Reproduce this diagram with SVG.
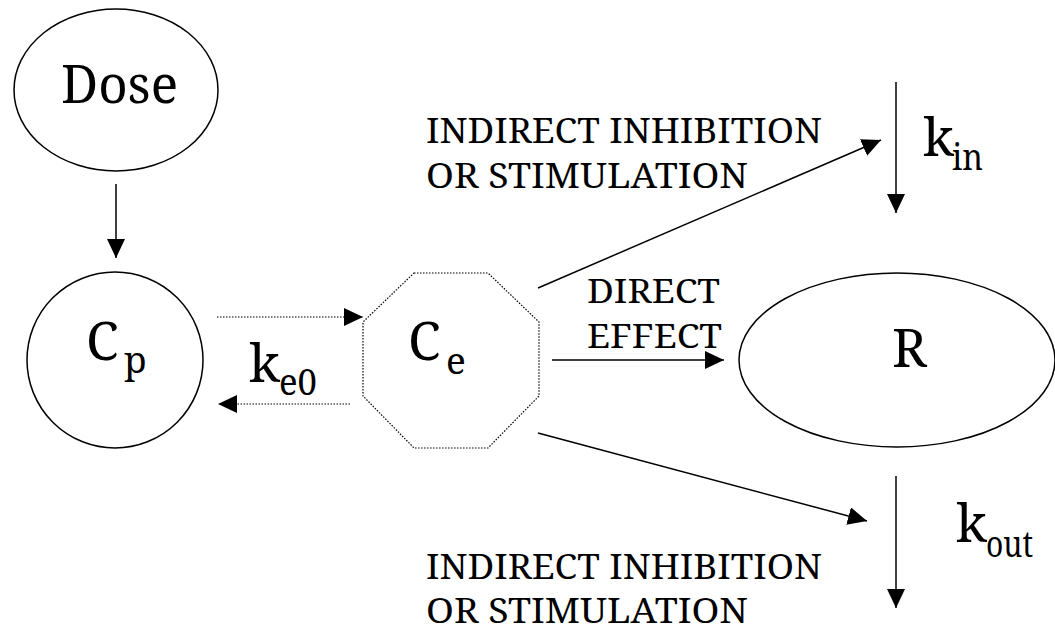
<svg xmlns="http://www.w3.org/2000/svg" width="1055" height="633" viewBox="0 0 1055 633">
<defs>
<marker id="ah" markerUnits="userSpaceOnUse" markerWidth="19" markerHeight="18" refX="19" refY="9" orient="auto">
<path d="M0,0 L19,9 L0,18 Z" fill="#000"/>
</marker>
<style>
.shape{fill:#fff;stroke:#000;stroke-width:1.5}
.dotshape{fill:#fff;stroke:#000;stroke-width:1.2;stroke-dasharray:1.5 1.5}
.ln{fill:none;stroke:#000;stroke-width:1.5}
.dl{fill:none;stroke:#000;stroke-width:1.2;stroke-dasharray:1.5 1.5}
text{font-family:"Noto Serif","DejaVu Serif",serif;fill:#000}
.big{font-size:53px}
.sub{font-size:37px}
.lbl{font-size:34.5px}
.lbs{font-size:32px}
</style>
</defs>
<rect width="1055" height="633" fill="#fff"/>
<g id="connectors">
<line class="ln" x1="116" y1="184" x2="116" y2="258" marker-end="url(#ah)"/>
<line class="dl" x1="217" y1="317" x2="363" y2="317" marker-end="url(#ah)"/>
<line class="dl" x1="350" y1="404" x2="218" y2="404" marker-end="url(#ah)"/>
<line class="ln" x1="538" y1="288" x2="881" y2="140" marker-end="url(#ah)"/>
<line class="ln" x1="552" y1="360" x2="724" y2="360" marker-end="url(#ah)"/>
<line class="ln" x1="538" y1="433" x2="867" y2="521" marker-end="url(#ah)"/>
<line class="ln" x1="896" y1="82" x2="896" y2="213" marker-end="url(#ah)"/>
<line class="ln" x1="896" y1="476" x2="896" y2="608" marker-end="url(#ah)"/>
</g>
<g id="node-dose">
<ellipse class="shape" cx="116" cy="90" rx="102" ry="81"/>
<text class="big" x="61" y="103" textLength="117" lengthAdjust="spacingAndGlyphs">Dose</text>
</g>
<g id="node-cp">
<circle class="shape" cx="115" cy="360" r="88"/>
<text class="big" x="86" y="360">C</text>
<text class="sub" x="124" y="373">p</text>
</g>
<g id="node-ce">
<polygon class="dotshape" points="414,273 488,273 539,322 539,396 488,448 414,448 363,396 363,322"/>
<text class="big" x="408" y="360">C</text>
<text class="sub" x="446" y="374">e</text>
</g>
<g id="node-r">
<ellipse class="shape" cx="897" cy="360" rx="158" ry="87"/>
<text class="big" x="892" y="367">R</text>
</g>
<g id="labels">
<text class="big" x="249" y="382">k</text>
<text class="sub" x="279" y="395" textLength="38" lengthAdjust="spacingAndGlyphs">e0</text>
<text class="big" x="923" y="156">k</text>
<text class="sub" x="952" y="170" textLength="31" lengthAdjust="spacingAndGlyphs">in</text>
<text class="big" x="956" y="542">k</text>
<text class="sub" x="986" y="557" textLength="47" lengthAdjust="spacingAndGlyphs">out</text>
<text class="lbl" x="426" y="143" textLength="396" lengthAdjust="spacingAndGlyphs">INDIRECT INHIBITION</text>
<text class="lbl" x="426" y="188" textLength="322" lengthAdjust="spacingAndGlyphs">OR STIMULATION</text>
<text class="lbs" x="587" y="303" textLength="133" lengthAdjust="spacingAndGlyphs">DIRECT</text>
<text class="lbs" x="587" y="348" textLength="135" lengthAdjust="spacingAndGlyphs">EFFECT</text>
<text class="lbl" x="426" y="579" textLength="396" lengthAdjust="spacingAndGlyphs">INDIRECT INHIBITION</text>
<text class="lbl" x="426" y="623" textLength="322" lengthAdjust="spacingAndGlyphs">OR STIMULATION</text>
</g>
</svg>
